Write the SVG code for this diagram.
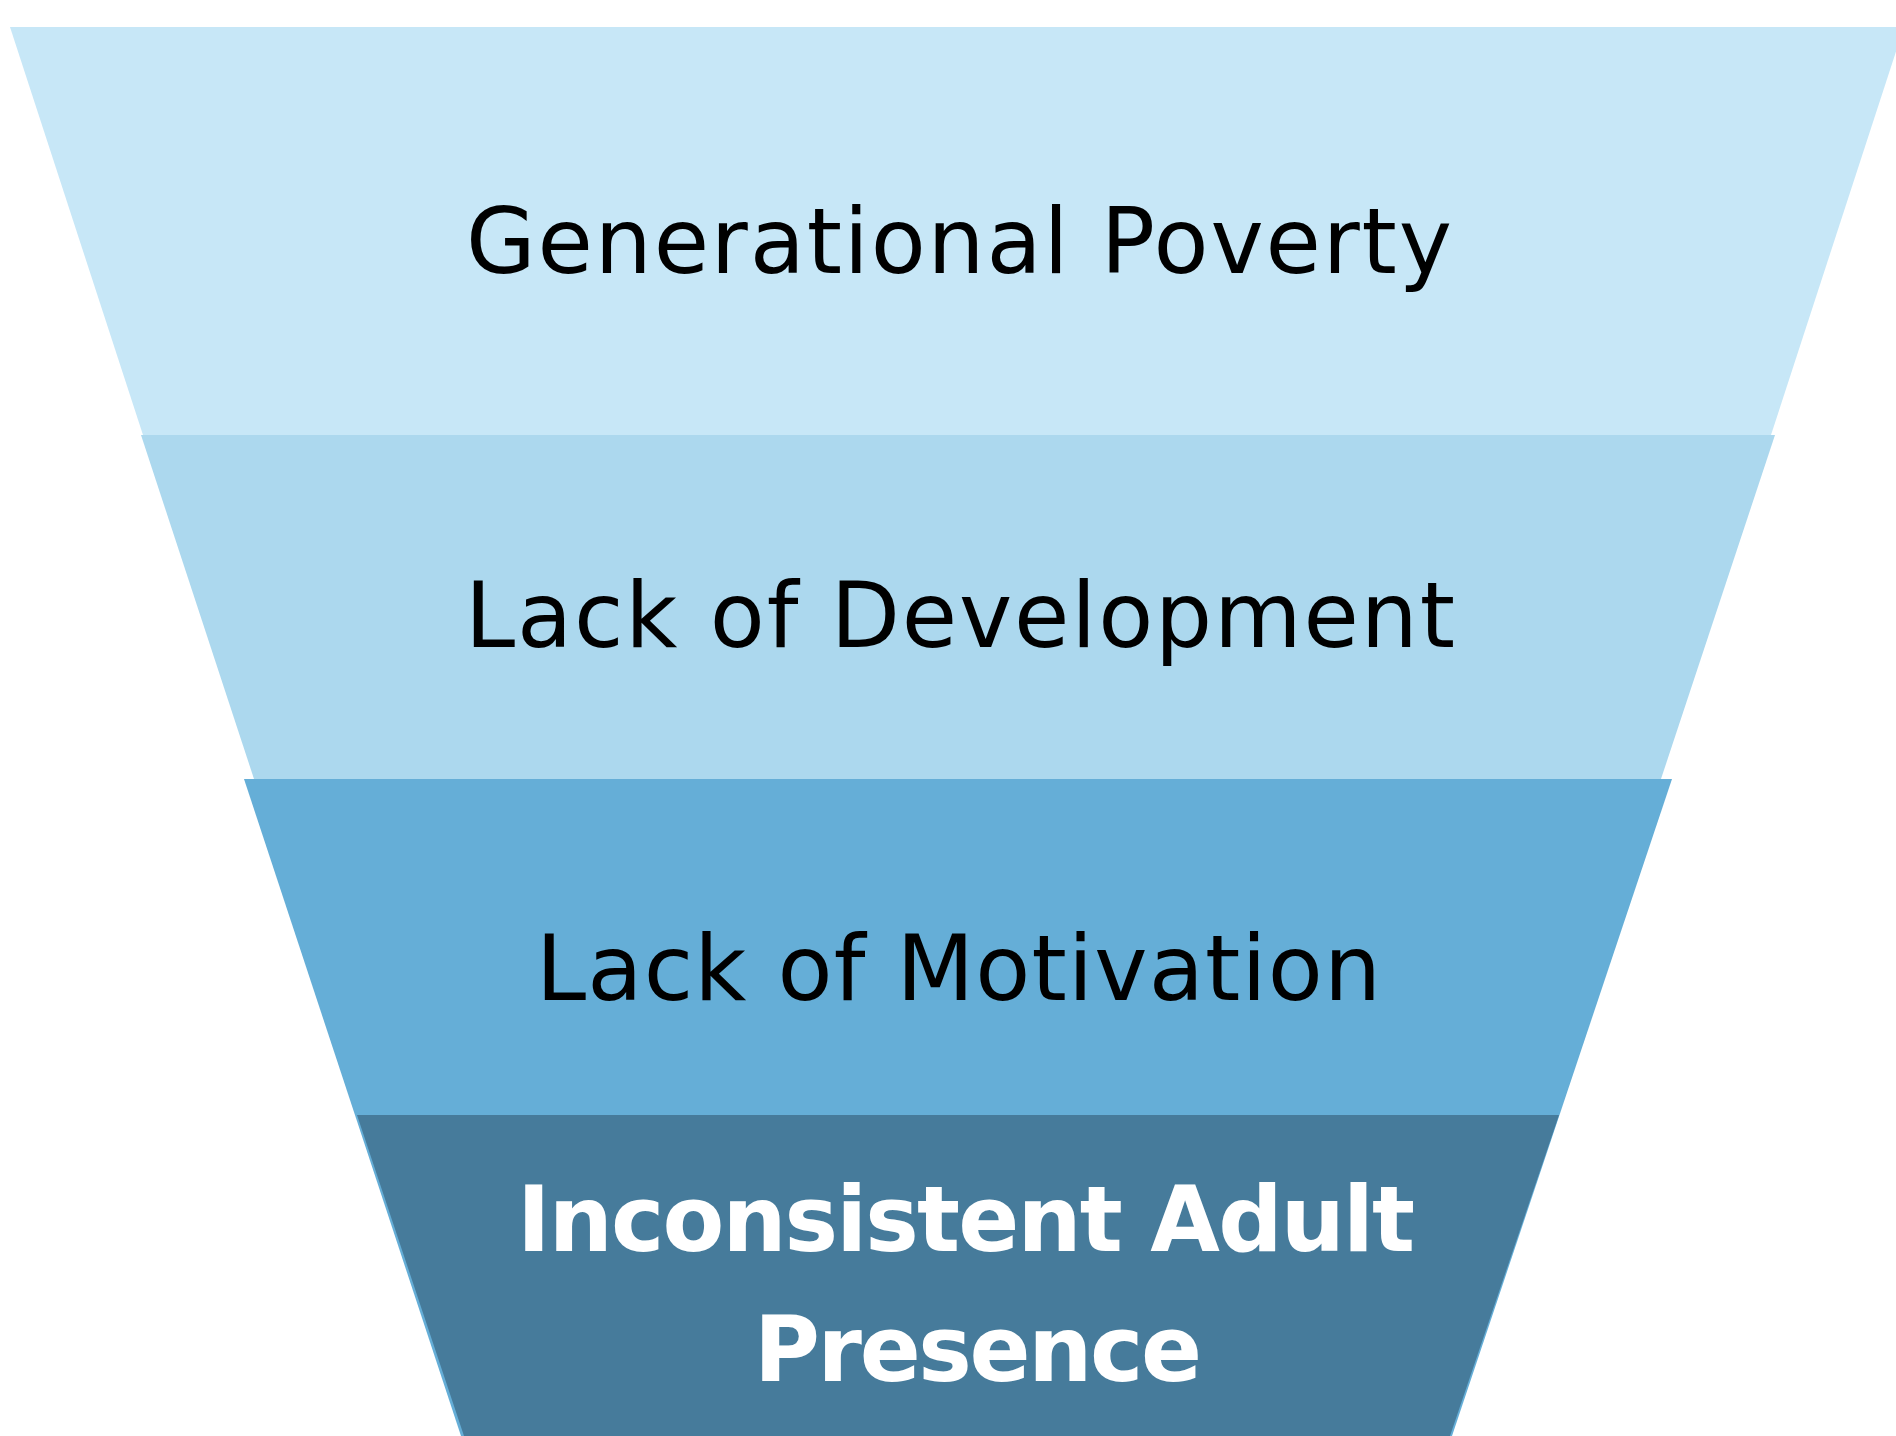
<svg xmlns="http://www.w3.org/2000/svg" width="1896" height="1436" viewBox="0 0 1896 1436">
<style>
.lbl{font-family:"DejaVu Sans","Liberation Sans",sans-serif;font-size:90px;fill:#000000}
.bold{font-weight:bold;fill:#ffffff}
</style>
<rect x="0" y="0" width="1896" height="1436" fill="#ffffff"/>
<g id="band1">
<polygon points="10,27 1904,27 1771,435 143,435" fill="#C7E7F7"/>
<text class="lbl" x="466" y="273" textLength="986" lengthAdjust="spacing">Generational Poverty</text>
</g>
<g id="band2">
<polygon points="141,435 1775,435 1661,779 254,779" fill="#ACD8EE"/>
<text class="lbl" x="465" y="647" textLength="990" lengthAdjust="spacing">Lack of Development</text>
</g>
<g id="band3">
<polygon points="244,779 1672,779 1452,1436 461,1436" fill="#65AED7"/>
<text class="lbl" x="536" y="1000" textLength="845" lengthAdjust="spacing">Lack of Motivation</text>
</g>
<g id="band4">
<polygon points="357,1115 1559,1115 1450,1436 464,1436" fill="#467B9B"/>
<text class="lbl bold" x="517" y="1251" textLength="898" lengthAdjust="spacing">Inconsistent Adult</text>
<text class="lbl bold" x="754" y="1381" textLength="448" lengthAdjust="spacing">Presence</text>
</g>
<g id="connectors"/>
</svg>
